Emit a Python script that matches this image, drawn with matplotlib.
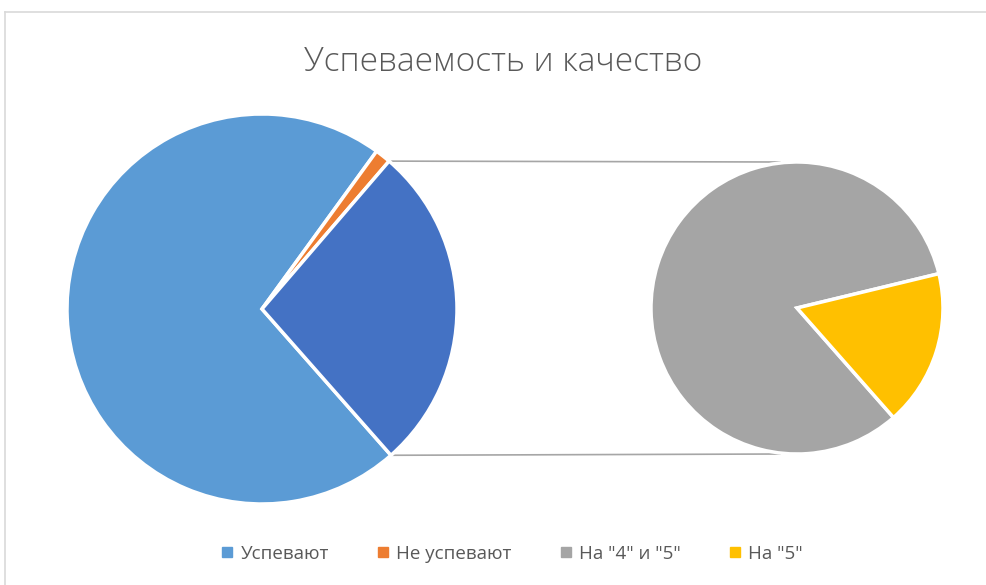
import matplotlib.pyplot as plt
from matplotlib.lines import Line2D
import numpy as np

plt.rcParams['font.family'] = ['Open Sans', 'DejaVu Sans']

# data (percent of class)
main_labels = ['Успевают', 'Не успевают']
main_values = [71.5, 1.3]
sub_labels = ['На "4" и "5"', 'На "5"']
sub_values = [22.5, 4.7]
title = 'Успеваемость и качество'

main_colors = ['#5B9BD5', '#ED7D31']
other_color = '#4472C4'
sub_colors = ['#A5A5A5', '#FFC000']

W, H = 987, 585
fig = plt.figure(figsize=(W / 100, H / 100), dpi=100)
ax = fig.add_axes([0, 0, 1, 1])

# left pie (y in data = H - pixel row)
other = sum(sub_values)
left_vals = main_values + [other]
c1, r1 = (262, H - 309), 195
wl, _ = ax.pie(left_vals, colors=main_colors + [other_color], center=c1, radius=r1,
               startangle=-48.6 + 360, counterclock=False,
               wedgeprops=dict(edgecolor='white', linewidth=2.5), frame=True)

# right pie
c2, r2 = (797, H - 308), 146
wr, _ = ax.pie(sub_values, colors=sub_colors, center=c2, radius=r2,
               startangle=13.6 + 360 * sub_values[0] / other, counterclock=False,
               wedgeprops=dict(edgecolor='white', linewidth=2.5), frame=True)
ax.set_xlim(0, W)
ax.set_ylim(0, H)
ax.set_aspect('equal')
ax.axis('off')

# connector lines from the "other" wedge to the second pie
w = wl[-1]
for ang, yy in [(w.theta2, c2[1] + r2), (w.theta1, c2[1] - r2)]:
    x0 = c1[0] + r1 * np.cos(np.radians(ang))
    y0 = c1[1] + r1 * np.sin(np.radians(ang))
    ax.plot([x0, c2[0] - 17], [y0, yy], color='#A6A6A6', lw=1.2, zorder=0)

ax.text(W / 2 + 10, H - 62, title, ha='center', va='center', fontsize=24,
        color='#595959', fontweight='light')

# chart frame
fig.add_artist(Line2D([5 / W, 1], [1 - 12 / H, 1 - 12 / H], transform=fig.transFigure,
                      color='#D9D9D9', lw=1.2))
fig.add_artist(Line2D([5 / W, 5 / W], [0, 1 - 12 / H], transform=fig.transFigure,
                      color='#D9D9D9', lw=1.2))

handles = [Line2D([], [], marker='s', ls='', color=c, markersize=7.5)
           for c in main_colors + sub_colors]
fig.legend(handles, main_labels + sub_labels, loc='center', bbox_to_anchor=(0.518, 1 - 554 / H),
           ncol=4, frameon=False, fontsize=13.5, labelcolor='#595959',
           handlelength=0.8, handletextpad=0.3, columnspacing=2.5)

fig.savefig('out.png', dpi=100)
